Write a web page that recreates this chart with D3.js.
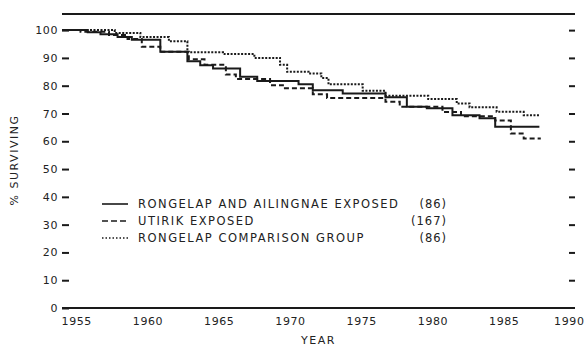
<!DOCTYPE html>
<html>
<head>
<meta charset="utf-8">
<script src="https://cdn.jsdelivr.net/npm/d3@7"></script>
<style>
  body { margin: 0; background: #fff; }
  text { font-family: "DejaVu Sans", sans-serif; fill: #222; }
</style>
</head>
<body>
<div id="chart"></div>
<script>
// ---- data
// step points: [year, % surviving], each level holds until the next point
var rongelapSteps = [[1954, 100], [1955.8, 99.2], [1956.7, 98.5], [1957.9, 97.5], [1958.9, 96.5],
  [1960.9, 92.2], [1962.8, 88.8], [1963.7, 87.4], [1964.6, 86.2], [1966.5, 83.2], [1967.7, 81.7],
  [1970.6, 80.5], [1971.6, 78.4], [1973.7, 77.2], [1976.7, 75.8], [1978.2, 72.4], [1979.6, 71.9],
  [1981.4, 69.4], [1983.3, 68.3], [1984.4, 65.2], [1987.5, 65.2]];
var utirikSteps = [[1954, 100], [1955.3, 99.4], [1957.3, 98.2], [1958.6, 96.8], [1959.6, 94],
  [1960.9, 92.2], [1962.9, 89.5], [1964.0, 87.5], [1965.5, 84], [1966.2, 82.4], [1968.6, 80.2],
  [1969.5, 79.1], [1971.6, 76.9], [1972.6, 75.6], [1976.7, 74.2], [1977.7, 72.4], [1980.7, 70.5],
  [1982.0, 69], [1984.4, 67.5], [1985.5, 62.8], [1986.4, 61], [1987.6, 61]];
var comparisonSteps = [[1954, 100], [1957.7, 99], [1959.5, 97.5], [1961.5, 96], [1962.8, 92],
  [1965.3, 91.4], [1967.5, 90], [1969.3, 87.5], [1969.8, 85], [1971.3, 84.4], [1972.2, 82.8],
  [1972.7, 80.5], [1975.1, 78.2], [1976.7, 76.4], [1979.7, 75.2], [1981.7, 73.6], [1982.6, 72.2],
  [1984.5, 70.6], [1986.4, 69.4], [1987.5, 69.4]];

var seriesNames = ["RONGELAP AND AILINGNAE EXPOSED", "UTIRIK EXPOSED", "RONGELAP COMPARISON GROUP"];
var seriesCounts = ["(86)", "(167)", "(86)"];
var yearTicks = [1955, 1960, 1965, 1970, 1975, 1980, 1985, 1990];
var pctTicks = [0, 10, 20, 30, 40, 50, 60, 70, 80, 90, 100];

// ---- setup
var W = 585, H = 348;
var margin = { top: 14, right: 10, bottom: 40, left: 62 };
var frameTop = 105.8; // top rule sits a bit above 100 %

var svg = d3.select("#chart").append("svg")
  .attr("width", W)
  .attr("height", H);

var x = d3.scaleLinear().domain([1954, 1990]).range([margin.left, W - margin.right]);
var y = d3.scaleLinear().domain([0, frameTop]).range([H - margin.bottom, margin.top]);

var ink = "#1a1a1a";

//--- frame: top rule and bottom axis line
svg.append("line")
  .attr("x1", x(1954)).attr("x2", x(1990))
  .attr("y1", y(frameTop)).attr("y2", y(frameTop))
  .attr("stroke", ink).attr("stroke-width", 2);
svg.append("line")
  .attr("x1", x(1954)).attr("x2", x(1990))
  .attr("y1", y(0)).attr("y2", y(0))
  .attr("stroke", ink).attr("stroke-width", 2);

//--- x axis labels
var xAxis = d3.axisBottom(x).tickValues(yearTicks).tickSize(0).tickPadding(9).tickFormat(d3.format("d"));
var gx = svg.append("g")
  .attr("transform", `translate(0,${y(0)})`)
  .call(xAxis);
gx.select(".domain").remove();
gx.selectAll("text").style("font-size", "11px").style("letter-spacing", "0.6px").attr("fill", "#222");
// last label would run off the right edge: pin it to the edge
gx.selectAll("text").filter(d => d === 1990)
  .attr("text-anchor", "end")
  .attr("x", W - 1 - x(1990));

//--- y axis left (inner ticks)
var yAxisL = d3.axisLeft(y).tickValues(pctTicks).tickSize(-7).tickPadding(4);
var gyl = svg.append("g")
  .attr("transform", `translate(${x(1954)},0)`)
  .call(yAxisL);
gyl.select(".domain").remove();
gyl.selectAll("line").attr("stroke", ink).attr("stroke-width", 2);
gyl.selectAll("text").style("font-size", "11px").style("letter-spacing", "0.6px").attr("fill", "#222");

//--- y axis right, ticks only
var yAxisR = d3.axisRight(y).tickValues(pctTicks.slice(1)).tickSize(-6).tickFormat("");
var gyr = svg.append("g")
  .attr("transform", `translate(${x(1990)},0)`)
  .call(yAxisR);
gyr.select(".domain").remove();
gyr.selectAll("line").attr("stroke", ink).attr("stroke-width", 2);

//--- axis titles
svg.append("text")
  .text("YEAR")
  .attr("x", (x(1954) + x(1990)) / 2)
  .attr("y", H - 4)
  .style("text-anchor", "middle")
  .style("font-size", "11px")
  .style("letter-spacing", "1.5px");

svg.append("text")
  .text("% SURVIVING")
  .style("text-anchor", "middle")
  .style("font-size", "11px")
  .style("letter-spacing", "1.5px")
  .attr("transform", `translate(18,${160}) rotate(-90)`);

//--- survival curves
var styles = [
  { data: rongelapSteps, dash: null },
  { data: utirikSteps, dash: "5,3" },
  { data: comparisonSteps, dash: "2,1.5" }
];

var line = d3.line()
  .x(d => x(d[0]))
  .y(d => y(d[1]))
  .curve(d3.curveStepAfter);

svg.selectAll(".curve")
  .data(styles)
  .enter().append("path")
  .attr("class", "curve")
  .attr("d", d => line(d.data))
  .attr("fill", "none")
  .attr("stroke", ink)
  .attr("stroke-width", 2)
  .attr("stroke-dasharray", d => d.dash);

//--- legend
var legY = d3.scaleLinear().domain([0, 1]).range([204, 221]);
var leg = svg.selectAll(".leg")
  .data(seriesNames)
  .enter().append("g")
  .attr("class", "leg")
  .attr("transform", (d, i) => `translate(0,${legY(i)})`);

leg.append("line")
  .attr("x1", 102).attr("x2", 128)
  .attr("stroke", ink)
  .attr("stroke-width", 1.6)
  .attr("stroke-dasharray", (d, i) => styles[i].dash ? (i === 1 ? "6,3" : "1.5,2") : null);

leg.append("text")
  .text(d => d)
  .attr("x", 138)
  .attr("dy", "0.36em")
  .style("font-size", "11.5px")
  .style("letter-spacing", "1.5px");

leg.append("text")
  .text((d, i) => seriesCounts[i])
  .attr("x", 447)
  .attr("dy", "0.36em")
  .style("text-anchor", "end")
  .style("font-size", "11.5px")
  .style("letter-spacing", "1px");
</script>
</body>
</html>
